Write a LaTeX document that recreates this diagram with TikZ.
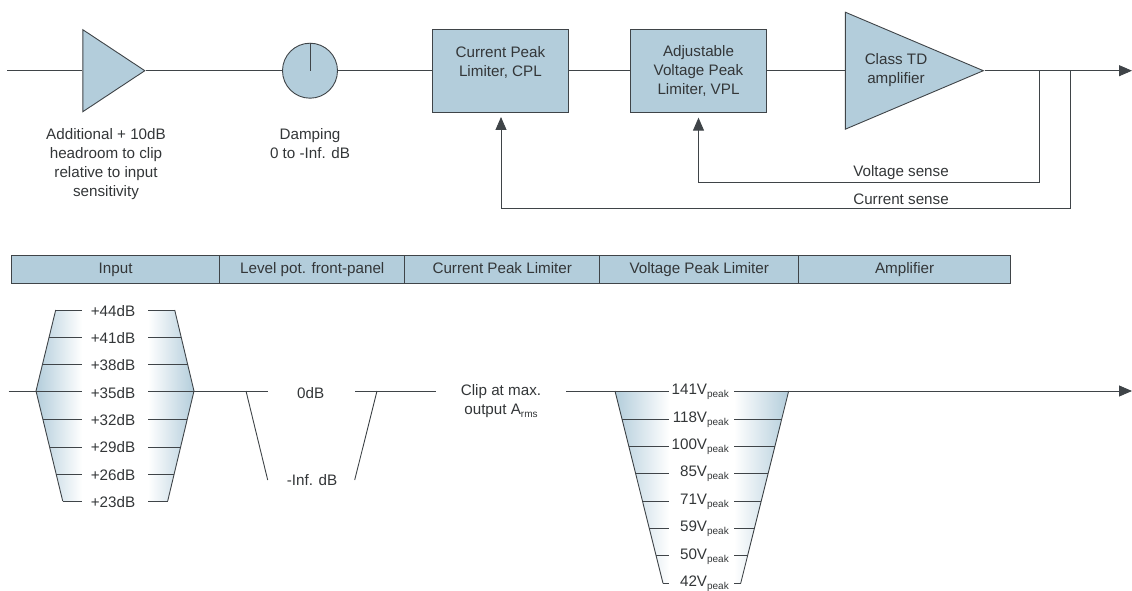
\documentclass[tikz,border=0pt]{standalone}
\usepackage{fontspec}
\setmainfont{Liberation Sans}
\usetikzlibrary{arrows.meta,shapes.geometric}
\definecolor{kblue}{HTML}{B3CDDB}
\definecolor{kline}{HTML}{3F4448}
\definecolor{ktext}{HTML}{333638}
\newcommand{\lowtxt}[1]{\raisebox{-2.8pt}{\fontsize{10}{10}\selectfont #1}}
\tikzset{
  lbl/.style={text=ktext, align=center, inner sep=0pt, font=\fontsize{15.2}{19}\selectfont},
  block/.style={lbl, draw=kline, fill=kblue, line width=0.9pt, minimum width=136.5pt, minimum height=83pt, inner sep=0pt},
  ktri/.style={draw=kline, fill=kblue, line width=0.9pt, isosceles triangle, isosceles triangle stretches, inner sep=0pt, anchor=apex},
  kpot/.style={draw=kline, fill=kblue, line width=0.9pt, circle, minimum size=55pt, inner sep=0pt},
  kbar/.style={lbl, draw=kline, fill=kblue, line width=0.9pt, minimum height=27.5pt, text height=11pt, text depth=3pt, anchor=west},
  sig/.style={draw=kline, line width=0.9pt},
  flow/.style={sig, -{Triangle[length=13pt, width=11pt]}},
}

\begin{document}
\begin{tikzpicture}[x=1pt, y=-1pt]
    \useasboundingbox (0,0) rectangle (1132,591);
    % signal chain
    \coordinate (start) at (7,70.7);
    \coordinate (out) at (1132,70.7);
    \coordinate (vbranch) at (1039,70.7);
    \coordinate (cbranch) at (1070,70.7);
    \coordinate (vcorner) at (698.5,182);
    \coordinate (ccorner) at (501,208);
    \coordinate (cplin) at (501,112);
    \node[ktri, minimum width=82pt, minimum height=62pt] (head) at (146,70.7) {};
    \node[kpot] (pot) at (310,70.7) {};
    \node[block] (cpl) at (500.4,70.7) {Current Peak\\Limiter, CPL\\\vphantom{L}};
    \node[block] (vpl) at (698.5,70.7) {Adjustable\\Voltage Peak\\Limiter, VPL};
    \node[ktri, minimum width=117pt, minimum height=138pt] (amp) at (984.5,70.7) {};
    \node[lbl] (amptxt) at (896,70.5) {Class TD\\amplifier};
    \draw[sig] (start) -- (head.west);
    \draw[sig] (head.apex) -- (pot.west);
    \draw[sig] (pot.east) -- (cpl.west);
    \draw[sig] (cpl.east) -- (vpl.west);
    \draw[sig] (vpl.east) -- (amp.west);
    \draw[flow] (amp.apex) -- (out);
    \draw[sig] (pot.north) -- (pot.center);
    \draw[flow, shorten >=5pt] (vbranch) |- (vcorner) -- (vpl.south);
    \draw[flow, shorten >=5pt] (cbranch) |- (ccorner) -- (cplin);
    \node[lbl] (headtxt) at (106,164) {Additional + 10dB\\headroom to clip\\relative to input\\sensitivity};
    \node[lbl] (pottxt) at (310,143.5) {Damping\\0 to -Inf. dB};
    \node[lbl] (vsense) at (901,173) {Voltage sense};
    \node[lbl] (csense) at (901,199) {Current sense};
    % header bar
    \node[kbar, minimum width=208.3pt] (barin) at (11,269.5) {Input};
    \node[kbar, minimum width=185pt] (barlev) at (219.3,269.5) {Level pot. front-panel};
    \node[kbar, minimum width=195pt] (barcpl) at (404.3,269.5) {Current Peak Limiter};
    \node[kbar, minimum width=199pt] (barvpl) at (599.3,269.5) {Voltage Peak Limiter};
    \node[kbar, minimum width=211.7pt] (baramp) at (798.3,269.5) {Amplifier};
    % input range
    \coordinate (intl) at (55.7,310);
    \coordinate (inml) at (36,391);
    \coordinate (inbl) at (62.7,501);
    \coordinate (intr) at (174.7,310);
    \coordinate (inmr) at (194,391);
    \coordinate (inbr) at (167.7,501);
    \begin{scope}
      \clip (intl) -- (inml) -- (inbl) -- (inbr) -- (inmr) -- (intr) -- cycle;
      \shade[left color=kblue, right color=white] (36,310) rectangle (82,501);
      \shade[left color=white, right color=kblue] (148,310) rectangle (194,501);
    \end{scope}
    \draw[sig] (intl) -- (inml) -- (inbl);
    \draw[sig] (intr) -- (inmr) -- (inbr);
    \foreach \rowid/\yy/\ty/\xl/\gain in {a/310/311/55.7/+44dB, b/337/338/49/+41dB, c/364/365/42.5/+38dB, d/391/393.5/36/+35dB, e/419.5/420/43/+32dB, f/447/447/49.6/+29dB, g/474/475/56.1/+26dB, h/501/502/62.7/+23dB}{
      \node[lbl] (in\rowid) at (113,\ty) {\gain};
      \coordinate (inl\rowid) at (\xl,\yy);
      \coordinate (inr\rowid) at (230.4-\xl,\yy);
      \draw[sig] (inl\rowid) -- (82,\yy);
      \draw[sig] (148,\yy) -- (inr\rowid);
    }
    % level pot
    \coordinate (instart) at (8.7,391);
    \coordinate (levin) at (267.7,391);
    \coordinate (levfork) at (246,391);
    \coordinate (levlow) at (267.7,480);
    \coordinate (levout) at (355,391);
    \coordinate (levjoin) at (377,391);
    \coordinate (levup) at (354.7,480);
    \coordinate (clipout) at (436,391);
    \coordinate (clipin) at (566,391);
    \coordinate (vtl) at (615,391);
    \coordinate (vtr) at (788.7,391);
    \coordinate (vbl) at (663,583.3);
    \coordinate (vbr) at (740.7,583.3);
    \coordinate (end) at (1132,391);
    \draw[sig] (instart) -- (inld);
    \draw[sig] (inrd) -- (levin);
    \draw[sig] (levfork) -- (levlow);
    \draw[sig] (levout) -- (clipout);
    \draw[sig] (levjoin) -- (levup);
    \draw[sig] (clipin) -- (vtl);
    \node[lbl] (zerodb) at (310.7,393) {0dB};
    \node[lbl] (infdb) at (312,480) {-Inf. dB};
    \node[lbl] (cliptxt) at (501,401.5) {Clip at max.\\output A\lowtxt{rms}};
    % voltage range
    \begin{scope}
      \clip (vtl) -- (vtr) -- (vbr) -- (vbl) -- cycle;
      \shade[left color=kblue, right color=white] (615,391) rectangle (669.3,583.3);
      \shade[left color=white, right color=kblue] (734,391) rectangle (788.7,583.3);
    \end{scope}
    \draw[sig] (vtl) -- (vbl);
    \draw[sig] (vtr) -- (vbr);
    \draw[flow] (vtr) -- (end);
    \foreach \rowid/\yy/\xl/\volt in {a/391/615/141, b/419/621.9/118, c/446.3/628.8/100, d/473.3/635.5/85, e/501/642.4/71, f/528.3/649.3/59, g/555.7/656.1/50, h/583.3/663/42}{
      \node[lbl, anchor=east] (vo\rowid) at (729,\yy+0.8) {\volt V\lowtxt{peak}};
      \coordinate (vol\rowid) at (\xl,\yy);
      \coordinate (vor\rowid) at (1403.7-\xl,\yy);
      \draw[sig] (vol\rowid) -- (669.3,\yy);
      \draw[sig] (734,\yy) -- (vor\rowid);
    }
  \end{tikzpicture}
\end{document}
